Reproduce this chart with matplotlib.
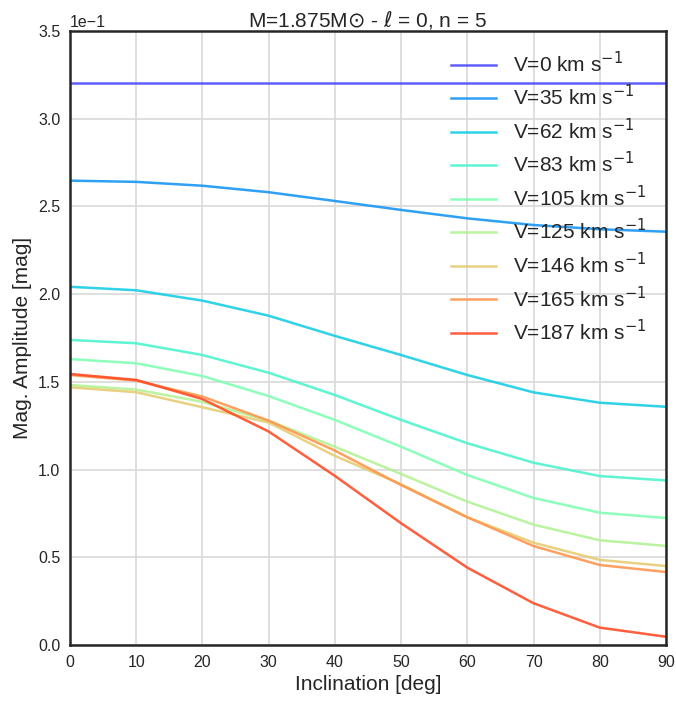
import numpy as np
import matplotlib
matplotlib.use("Agg")
import matplotlib.pyplot as plt

# -----------------------------------------------------------------------------
# data (mag amplitude vs inclination, one curve per rotation velocity)
# -----------------------------------------------------------------------------

inclination = [0, 10, 20, 30, 40, 50, 60, 70, 80, 90]
velocities = [0, 35, 62, 83, 105, 125, 146, 165, 187]

amp_v0 = [0.3204, 0.3204, 0.3204, 0.3204, 0.3204, 0.3204, 0.3204, 0.3204, 0.3204, 0.3204]
amp_v35 = [0.2647, 0.2640, 0.2618, 0.2581, 0.2531, 0.2480, 0.2432, 0.2394, 0.2370, 0.2356]
amp_v62 = [0.2042, 0.2022, 0.1963, 0.1877, 0.1762, 0.1653, 0.1539, 0.1440, 0.1381, 0.1358]
amp_v83 = [0.1739, 0.1720, 0.1653, 0.1552, 0.1425, 0.1283, 0.1150, 0.1039, 0.0963, 0.0938]
amp_v105 = [0.1630, 0.1606, 0.1533, 0.1419, 0.1283, 0.1130, 0.0969, 0.0838, 0.0754, 0.0724]
amp_v125 = [0.1482, 0.1456, 0.1386, 0.1279, 0.1130, 0.0975, 0.0817, 0.0686, 0.0597, 0.0565]
amp_v146 = [0.1469, 0.1441, 0.1355, 0.1268, 0.1078, 0.0916, 0.0728, 0.0583, 0.0485, 0.0450]
amp_v165 = [0.1539, 0.1507, 0.1416, 0.1279, 0.1108, 0.0912, 0.0728, 0.0564, 0.0456, 0.0416]
amp_v187 = [0.1545, 0.1511, 0.1402, 0.1217, 0.0964, 0.0694, 0.0441, 0.0238, 0.0099, 0.0047]

amplitudes = [amp_v0, amp_v35, amp_v62, amp_v83, amp_v105,
              amp_v125, amp_v146, amp_v165, amp_v187]

# -----------------------------------------------------------------------------
# style
# -----------------------------------------------------------------------------

plt.rcParams["font.family"] = ["Liberation Sans", "DejaVu Sans"]
plt.rcParams["text.color"] = "0.15"
plt.rcParams["axes.labelcolor"] = "0.15"
plt.rcParams["xtick.color"] = "0.15"
plt.rcParams["ytick.color"] = "0.15"

fig = plt.figure(figsize=(6.76, 7.02), dpi=100)
ax = fig.add_axes([70 / 676, 57 / 702, 596 / 676, 614 / 702])

colors = plt.cm.rainbow(np.linspace(0.1, 0.9, len(velocities)))

for v, amp, c in zip(velocities, amplitudes, colors):
    ax.plot(inclination, amp, color=c, lw=1.8, alpha=0.9,
            label=r"V=%d km s$^{-1}$" % v)

ax.set_xlim(0, 90)
ax.set_ylim(0, 0.35)
ax.set_xticks(inclination)
ax.set_yticks(np.arange(0, 0.36, 0.05))
ax.ticklabel_format(axis="y", style="sci", scilimits=(0, 0))
ax.yaxis.get_offset_text().set_fontsize(11.5)

ax.grid(True, color="0.85", lw=1.2)
ax.set_axisbelow(True)
for sp in ax.spines.values():
    sp.set_color("0.15")
    sp.set_linewidth(1.8)
ax.tick_params(length=0, labelsize=11.5, pad=7)

ax.set_xlabel("Inclination [deg]", fontsize=15)
ax.set_ylabel("Mag. Amplitude [mag]", fontsize=15)
ax.set_title(r"M=1.875M$\odot$ - $\ell$ = 0, n = 5", fontsize=15, pad=1)

ax.legend(loc="upper right", frameon=False, fontsize=15, labelspacing=0.4,
          handlelength=2.2, borderaxespad=0.55)

fig.savefig("out.png", dpi=100)
